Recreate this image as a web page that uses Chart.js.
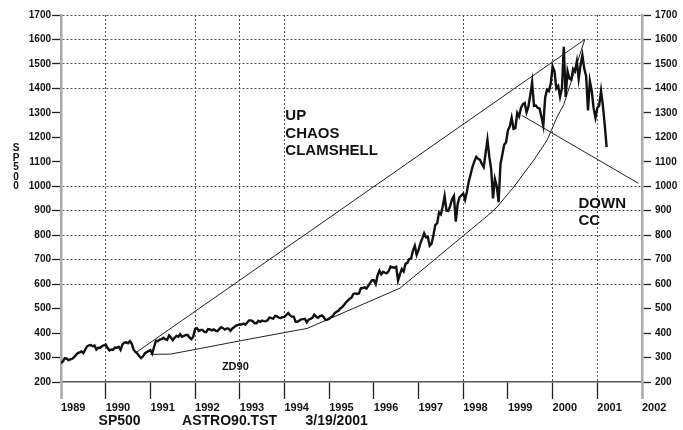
<!DOCTYPE html>
<html><head><meta charset="utf-8">
<script src="https://cdn.jsdelivr.net/npm/chart.js@4"></script>
<style>html,body{margin:0;padding:0;background:#fff}#wrap{width:683px;height:430px}</style>
</head><body><div id="wrap"><canvas id="c" width="683" height="430"></canvas></div>
<script>
// S&P 500, values on the 1st and 15th of each month
const sp1989 = [277,284,297,296,289,292,295,301,310,318,321,325,318,332,346,350,351,346,349,333,340,340,346,350];
const sp1990 = [353,340,329,333,332,341,340,344,331,354,361,362,358,367,356,332,323,316,306,298,304,317,322,326];
const sp1991 = [330,316,344,369,367,373,375,381,375,372,390,382,371,381,388,385,395,385,388,392,392,382,375,385];
const sp1992 = [417,420,409,413,413,405,404,416,415,411,415,410,408,416,424,420,414,419,418,409,419,424,431,433];
const sp1993 = [436,435,439,434,443,452,452,448,440,440,450,446,451,449,448,453,464,461,459,470,468,463,462,465];
const sp1994 = [466,474,482,472,467,467,446,446,451,456,457,458,444,455,458,462,475,468,463,469,472,466,454,455];
const sp1995 = [459,465,470,482,487,491,501,506,515,525,533,540,545,560,562,560,562,583,584,587,582,593,605,616];
const sp1996 = [616,600,636,655,640,650,646,645,654,672,669,667,671,615,640,662,652,683,687,702,705,737,757,720];
const sp1997 = [740,767,786,808,791,793,757,765,801,842,848,893,885,918,960,900,899,920,947,960,855,928,955,963];
const sp1998 = [970,945,980,1020,1049,1080,1102,1120,1112,1108,1091,1078,1134,1190,1121,1070,950,1030,1000,935,1090,1130,1170,1180];
const sp1999 = [1229,1245,1280,1235,1238,1300,1286,1320,1335,1340,1302,1325,1373,1425,1329,1330,1320,1318,1283,1248,1363,1395,1389,1420];
const sp2000 = [1490,1470,1400,1410,1366,1400,1570,1365,1470,1440,1435,1480,1470,1510,1440,1495,1535,1480,1450,1310,1430,1390,1320,1280];
const sp2001 = [1320,1330,1390,1330,1250,1160];
const spYears = [1989,1990,1991,1992,1993,1994,1995,1996,1997,1998,1999,2000,2001];
const spByYear = [sp1989,sp1990,sp1991,sp1992,sp1993,sp1994,sp1995,sp1996,sp1997,sp1998,sp1999,sp2000,sp2001];

// drawn trend lines
const upYearsL = [1990.70, 2000.72];
const upValues = [323, 1600];
const zdYears = [1991.0,1991.45,1992.0,1993.0,1994.0,1994.51,1996.59,1998.56,1998.76,1999.13,1999.575,1999.875,2000.10,2000.25,2000.72];
const zdValues = [313,314,333,368,402,419,584,882,916,997,1106,1188,1283,1334,1600];
const downYears = [1999.31, 2001.92];
const downValues = [1290, 1012];

// axes
const yearTicks = [1989,1990,1991,1992,1993,1994,1995,1996,1997,1998,1999,2000,2001,2002];
const xGridYears = [1990,1992,1993,1994,1998,2000,2001];
const yGridValues = [600,700,800,900,1000,1400,1500,1600,1700];
const upText = ['UP','CHAOS','CLAMSHELL'];
const downText = ['DOWN','CC'];
const zdText = 'ZD90';
const captions = ['SP500','ASTRO90.TST','3/19/2001'];
const yTitle = ['S','P','5','0','0'];

const spPoints = [];
spByYear.forEach((arr, k) => arr.forEach((v, i) => spPoints.push({x: spYears[k] + i / 24, y: v})));
const pts = (xs, ys) => xs.map((x, i) => ({x, y: ys[i]}));

const FONT = "'Liberation Sans', Arial, Helvetica, sans-serif";

const textPlugin = {
  id: 'texts',
  afterDraw(chart) {
    const {ctx, scales: {x, y}, chartArea} = chart;
    ctx.save();
    ctx.fillStyle = '#111';
    ctx.textBaseline = 'middle';
    ctx.textAlign = 'left';
    ctx.font = 'bold 15px ' + FONT;
    const upY = [1289, 1214, 1145];
    upText.forEach((t, i) => ctx.fillText(t, x.getPixelForValue(1994.02), y.getPixelForValue(upY[i])));
    const dnY = [930, 859];
    downText.forEach((t, i) => ctx.fillText(t, x.getPixelForValue(2000.58), y.getPixelForValue(dnY[i])));
    ctx.font = 'bold 11px ' + FONT;
    ctx.fillText(zdText, x.getPixelForValue(1992.6), y.getPixelForValue(261));
    ctx.font = 'bold 14px ' + FONT;
    const capX = [1989.84, 1991.71, 1994.47];
    captions.forEach((t, i) => ctx.fillText(t, x.getPixelForValue(capX[i]), chartArea.bottom + 39.5));
    ctx.font = 'bold 10px ' + FONT;
    ctx.textAlign = 'center';
    const mid = y.getPixelForValue(1077);
    yTitle.forEach((t, i) => ctx.fillText(t, 16, mid + (i - 2) * 9.6));
    ctx.restore();
  }
};

const lineDs = (data, w, c) => ({data, borderColor: c, borderWidth: w, pointRadius: 0, tension: 0, fill: false});

new Chart(document.getElementById('c'), {
  type: 'line',
  data: {datasets: [
    lineDs(spPoints, 2.4, '#111'),
    lineDs(pts(upYearsL, upValues), 1, '#222'),
    lineDs(pts(zdYears, zdValues), 1, '#222'),
    lineDs(pts(downYears, downValues), 1, '#222')
  ]},
  options: {
    responsive: false, animation: false, events: [],
    layout: {padding: {top: 15, left: 0, right: 0, bottom: 0}},
    plugins: {legend: {display: false}, tooltip: {enabled: false}},
    scales: {
      x: {
        type: 'linear', min: 1989, max: 2002,
        afterBuildTicks: s => { s.ticks = yearTicks.map(v => ({value: v})); },
        ticks: {align: 'start', maxRotation: 0, autoSkip: false, padding: 2, color: '#111',
          font: {family: FONT, size: 11, weight: 'bold'}, callback: v => String(v)},
        grid: {
          color: c => (c.tick && xGridYears.includes(c.tick.value)) ? '#555' : 'rgba(0,0,0,0)',
          lineWidth: 1, tickLength: 17,
          tickColor: c => (c.tick && (c.tick.value === 1989 || c.tick.value === 2002)) ? '#aaa' : '#222',
          tickWidth: c => (c.tick && (c.tick.value === 1989 || c.tick.value === 2002)) ? 2.5 : 1.3
        },
        border: {color: '#555', width: 1.5, dash: [2, 2]},
        afterFit: s => { s.height = 48; }
      },
      y: {
        position: 'left', min: 200, max: 1700,
        ticks: {stepSize: 100, padding: 1, color: '#111', font: {family: FONT, size: 10, weight: 'bold'}, callback: v => String(v)},
        grid: {
          color: c => (c.tick && yGridValues.includes(c.tick.value)) ? '#555' : 'rgba(0,0,0,0)',
          lineWidth: 1, tickLength: 9, tickColor: '#222', tickWidth: 1.3
        },
        border: {color: '#aaa', width: 2.5, dash: [2, 2]},
        afterFit: s => { s.width = 61; }
      },
      y2: {
        position: 'right', min: 200, max: 1700,
        ticks: {stepSize: 100, padding: 4, color: '#111', font: {family: FONT, size: 10, weight: 'bold'}, callback: v => String(v)},
        grid: {drawOnChartArea: false, tickLength: 9, tickColor: '#222', tickWidth: 1.3},
        border: {color: '#aaa', width: 2.5},
        afterFit: s => { s.width = 41; }
      }
    }
  },
  plugins: [textPlugin]
});
</script>
</body></html>
